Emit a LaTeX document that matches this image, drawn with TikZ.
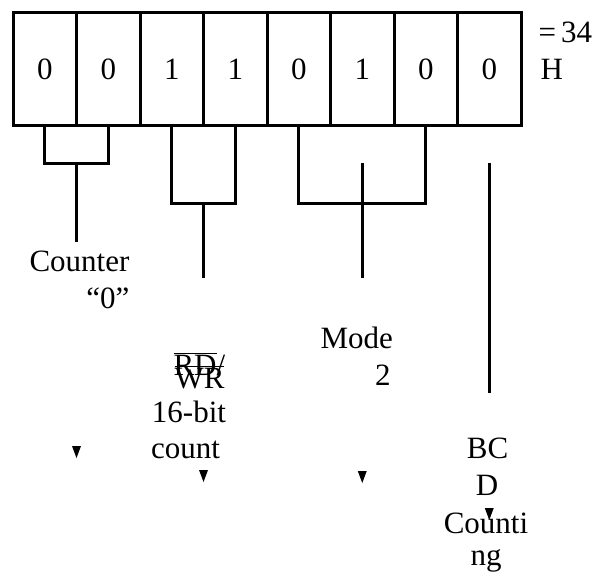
\documentclass[tikz,border=0pt]{standalone}
\usepackage{fontspec}
\setmainfont{Liberation Serif}

\begin{document}
\begin{tikzpicture}[x=1pt,y=-1pt,line width=3pt,
  every node/.style={inner sep=0pt,font=\fontsize{31}{36}\selectfont},
  cell/.style={draw,line width=3pt,minimum width=63.5pt,minimum height=113pt}]
  \useasboundingbox (0,0) rectangle (595,575);

  % Registro de control (8 bits)
  \foreach \i/\b in {1/0,2/0,3/1,4/1,5/0,6/1,7/0,8/0}
    \node[cell] (c\i) at ({13+63.5*(\i-0.5)}, 69.5) {\b};

  % Valor hexadecimal
  \node[anchor=base west] (hex) at (537, 43) {=\,34};
  \node[anchor=base west] (hexh) at (539, 80) {H};

  % Llaves bajo los bits
  \coordinate (cnt) at (76.5, 164);
  \coordinate (rw) at (203.5, 204);
  \coordinate (md) at (362.25, 204);
  \draw (c1.south) |- (cnt) -| (c2.south);
  \draw (c3.south) |- (rw) -| (c4.south);
  \draw (c5.south) |- (md) -| (c7.south);

  % Lineas verticales
  \coordinate (cntend) at (76.5, 242);
  \coordinate (rwend) at (203.5, 278);
  \coordinate (mdtop) at (362.25, 163);
  \coordinate (mdend) at (362.25, 278);
  \coordinate (bcdtop) at (489.25, 163);
  \coordinate (bcdend) at (489.25, 393);
  \draw (cnt) -- (cntend);
  \draw (rw) -- (rwend);
  \draw (mdtop) -- (mdend);
  \draw (bcdtop) -- (bcdend);

  % Etiquetas
  \node[anchor=base west] (counter) at (28, 272) {Counter};
  \node[anchor=base east] (counterz) at (131, 308) {“0”};
  \node[anchor=base west] (mode) at (319, 348) {Mode};
  \node[anchor=base east] (modetwo) at (392, 385) {2};
  \node[anchor=base west] (rd) at (172, 375) {$\overline{\mbox{RD}}$/};
  \node[anchor=base west] (wr) at (173, 388) {$\overline{\mbox{WR}}$};
  \node[anchor=base] (sixteen) at (189, 422) {16-bit};
  \node[anchor=base] (count) at (185.5, 458) {count};
  \node[anchor=base] (bc) at (487.5, 458) {BC};
  \node[anchor=base] (d) at (487, 495) {D};
  \node[anchor=base] (counti) at (486, 533) {Counti};
  \node[anchor=base] (ng) at (486, 565) {ng};

  % Puntas de flecha sueltas
  \coordinate (t1) at (76.5, 458);
  \coordinate (t2) at (203.5, 482);
  \coordinate (t3) at (362.25, 483);
  \coordinate (t4) at (489.25, 520);
  \foreach \t in {t1,t2,t3,t4}
    \fill (\t) -- ++(-4.5,-12) -- ++(9,0) -- cycle;
\end{tikzpicture}
\end{document}
